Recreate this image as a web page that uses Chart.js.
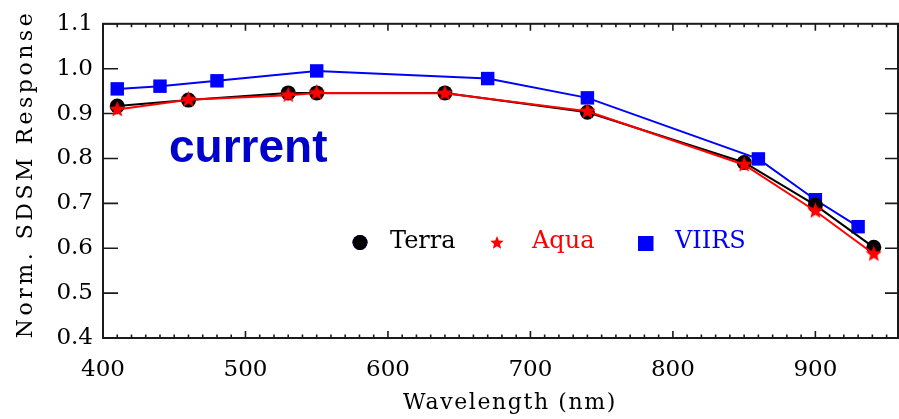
<!DOCTYPE html>
<html><head><meta charset="utf-8">
<script src="https://cdn.jsdelivr.net/npm/chart.js@4.4.0/dist/chart.umd.min.js"></script>
<style>html,body{margin:0;padding:0;background:#fff}#wrap{width:899px;height:419px;position:relative}</style>
</head><body><div id="wrap"><canvas id="c" width="899" height="419"></canvas></div>
<script>
const modisWavelengths = [410, 460, 530, 550, 640, 740, 850, 900, 941];
const terraResponse = [0.917, 0.930, 0.946, 0.946, 0.946, 0.903, 0.791, 0.696, 0.602];
const aquaResponse = [0.909, 0.931, 0.941, 0.946, 0.945, 0.905, 0.786, 0.683, 0.587];
const viirsWavelengths = [410, 440, 480, 550, 670, 740, 860, 900, 930];
const viirsResponse = [0.955, 0.961, 0.973, 0.995, 0.978, 0.935, 0.799, 0.708, 0.648];
const xTickValues = [400, 500, 600, 700, 800, 900];
const yTickValues = [0.4, 0.5, 0.6, 0.7, 0.8, 0.9, 1.0, 1.1];
const seriesNames = ['Terra', 'Aqua', 'VIIRS'];
const annotationText = 'current';
const xTitle = 'Wavelength (nm)';
const yTitle = 'Norm. SDSM Response';

const SERIF = '"DejaVu Serif", serif';
const RED = '#ff0000', BLUE = '#0000ff', BLACK = '#000000';

function makeStar(size, color) {
  const c = document.createElement('canvas');
  c.width = size; c.height = size;
  const g = c.getContext('2d');
  const cx = size / 2, cy = size / 2, R = size / 2, r = R * 0.45;
  g.beginPath();
  for (let i = 0; i < 10; i++) {
    const ang = -Math.PI / 2 + i * Math.PI / 5;
    const rad = i % 2 === 0 ? R : r;
    const px = cx + rad * Math.cos(ang), py = cy + rad * Math.sin(ang);
    if (i === 0) g.moveTo(px, py); else g.lineTo(px, py);
  }
  g.closePath();
  g.fillStyle = color; g.fill();
  return c;
}
const starBig = makeStar(17, RED);
const starSmall = makeStar(14, RED);

function pts(xs, ys) { return xs.map((x, i) => ({x: x, y: ys[i]})); }

const framePlugin = {
  id: 'frame',
  beforeDatasetsDraw(chart) {
    const {ctx, chartArea: a, scales: {x, y}} = chart;
    ctx.save();
    ctx.strokeStyle = '#1a1a1a';
    ctx.lineWidth = 2;
    ctx.strokeRect(a.left, a.top, a.right - a.left, a.bottom - a.top);
    ctx.lineWidth = 1.6;
    ctx.beginPath();
    for (let v = x.min; v <= x.max; v += 10) {
      const px = x.getPixelForValue(v);
      const len = (Math.round(v) % 100 === 0) ? 7 : 3.5;
      ctx.moveTo(px, a.bottom); ctx.lineTo(px, a.bottom - len);
      ctx.moveTo(px, a.top); ctx.lineTo(px, a.top + len);
    }
    yTickValues.forEach(v => {
      const py = y.getPixelForValue(v);
      ctx.moveTo(a.left, py); ctx.lineTo(a.left + 15, py);
      ctx.moveTo(a.right, py); ctx.lineTo(a.right - 13, py);
    });
    ctx.stroke();
    ctx.restore();
  },
  afterDraw(chart) {
    const {ctx} = chart;
    ctx.save();
    // axis titles
    ctx.fillStyle = BLACK;
    ctx.font = '22px ' + SERIF;
    ctx.textAlign = 'center';
    ctx.textBaseline = 'middle';
    ctx.letterSpacing = '1.6px';
    ctx.fillText(xTitle, 510, 403);
    ctx.save();
    ctx.translate(26, 174);
    ctx.rotate(-Math.PI / 2);
    ctx.letterSpacing = '3.5px';
    ctx.fillText(yTitle, 0, 0);
    ctx.restore();
    ctx.letterSpacing = '0px';
    // annotation
    ctx.font = 'bold 46px "Liberation Sans", Arial, sans-serif';
    ctx.fillStyle = '#0000cc';
    ctx.textBaseline = 'alphabetic';
    ctx.textAlign = 'left';
    ctx.fillText(annotationText, 169, 162);
    // legend
    ctx.font = '24px ' + SERIF;
    Chart.helpers.drawPoint(ctx, {pointStyle: 'circle', radius: 7.5, borderWidth: 0}, 360, 242.5);
    ctx.fillStyle = BLACK; ctx.fill();
    ctx.fillText(seriesNames[0], 390, 248);
    ctx.drawImage(starSmall, 497 - 7, 243 - 7);
    ctx.fillStyle = RED;
    ctx.fillText(seriesNames[1], 532, 248);
    ctx.fillStyle = BLUE;
    ctx.fillRect(638, 236, 15.5, 15);
    ctx.fillText(seriesNames[2], 675, 248);
    ctx.restore();
  }
};

new Chart(document.getElementById('c'), {
  type: 'scatter',
  data: {
    datasets: [
      {label: seriesNames[0], data: pts(modisWavelengths, terraResponse), showLine: true,
       borderColor: BLACK, backgroundColor: BLACK, borderWidth: 2, pointStyle: 'circle',
       pointRadius: 7.5, pointBorderWidth: 0, order: 1, clip: false},
      {label: seriesNames[1], data: pts(modisWavelengths, aquaResponse), showLine: true,
       borderColor: RED, backgroundColor: RED, borderWidth: 2, pointStyle: starBig,
       pointRadius: 8, order: 0, clip: false},
      {label: seriesNames[2], data: pts(viirsWavelengths, viirsResponse), showLine: true,
       borderColor: BLUE, backgroundColor: BLUE, borderWidth: 2, pointStyle: 'rect',
       pointRadius: 9.5, pointBorderWidth: 0, order: 2, clip: false}
    ]
  },
  options: {
    responsive: false, animation: false, devicePixelRatio: 1,
    layout: {autoPadding: false, padding: {top: 22, right: 1, left: 0, bottom: 0}},
    plugins: {legend: {display: false}, tooltip: {enabled: false}},
    scales: {
      x: {
        type: 'linear', min: 400, max: 958,
        afterBuildTicks: s => { s.ticks = xTickValues.map(v => ({value: v})); },
        afterFit: s => { s.height = 81; s.paddingRight = 0; s.paddingLeft = 0; },
        grid: {display: false, drawTicks: false},
        border: {display: false},
        ticks: {font: {family: SERIF, size: 23}, color: BLACK, padding: 18, maxRotation: 0,
                callback: v => String(v)},
        title: {display: false}
      },
      y: {
        type: 'linear', min: 0.4, max: 1.1,
        afterBuildTicks: s => { s.ticks = yTickValues.map(v => ({value: v})); },
        afterFit: s => { s.width = 103; },
        grid: {display: false, drawTicks: false},
        border: {display: false},
        ticks: {font: {family: SERIF, size: 23}, color: BLACK, padding: 10,
                callback: v => Number(v).toFixed(1)},
        title: {display: false}
      }
    }
  },
  plugins: [framePlugin]
});
</script></body></html>
